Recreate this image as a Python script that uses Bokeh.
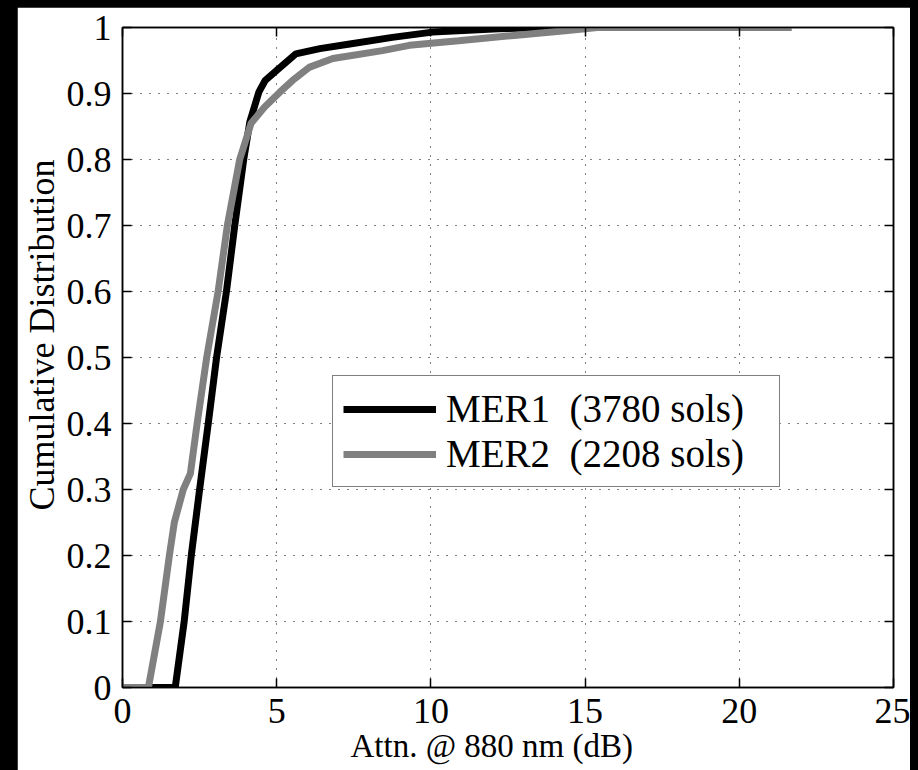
from bokeh.plotting import figure
from bokeh.models import (Range1d, FixedTicker, LinearAxis, Legend, LegendItem, Title)
from bokeh.embed import file_html
from bokeh.resources import INLINE

# ---------------- data ----------------
MER1_X = [0, 1.71, 2.0, 2.23, 2.5, 2.78, 3.05, 3.37, 3.64, 3.93, 4.13, 4.42, 4.63,
          5.0, 5.62, 6.4, 7.37, 8.75, 10.05, 12.2, 13.6, 21.6]
MER1_Y = [0, 0, 0.1, 0.2, 0.3, 0.4, 0.5, 0.6, 0.7, 0.8, 0.857, 0.902, 0.920,
          0.935, 0.960, 0.968, 0.975, 0.985, 0.993, 0.998, 1.0, 1.0]

MER2_X = [0, 0.84, 1.23, 1.52, 1.68, 1.97, 2.2, 2.42, 2.73, 3.1, 3.4, 3.8, 4.17,
          4.6, 5.1, 5.52, 6.07, 6.82, 8.43, 9.3, 10.9, 12.7, 14.35, 15.4, 21.7]
MER2_Y = [0, 0, 0.1, 0.2, 0.25, 0.3, 0.324, 0.4, 0.5, 0.6, 0.7, 0.8, 0.855,
          0.879, 0.902, 0.920, 0.940, 0.953, 0.965, 0.973, 0.980, 0.988, 0.995, 1.0, 1.0]

SERIES_LABELS = ["MER1  (3780 sols)", "MER2  (2208 sols)"]
X_TICKS = [0, 5, 10, 15, 20, 25]
X_TICK_LABELS = ["0", "5", "10", "15", "20", "25"]
Y_TICKS = [0, 0.1, 0.2, 0.3, 0.4, 0.5, 0.6, 0.7, 0.8, 0.9, 1]
Y_TICK_LABELS = ["0", "0.1", "0.2", "0.3", "0.4", "0.5", "0.6", "0.7", "0.8", "0.9", "1"]
X_LABEL = "Attn. @ 880 nm (dB)"
Y_LABEL = "Cumulative Distribution"

FONT = "Liberation Serif"
BLACK = "#000000"
GREY = "#808080"

p = figure(width=893, height=763, x_range=Range1d(0, 25), y_range=Range1d(0, 1),
           output_backend="svg", toolbar_location=None, title=None,
           min_border_left=102, min_border_right=17, min_border_top=20,
           min_border_bottom=83)
p.margin = (7, 0, 0, 17)
p.background_fill_color = "white"
p.border_fill_color = "white"
p.outline_line_color = BLACK
p.outline_line_width = 1.5

def style_axis(ax, ticks, labels, show_labels=True):
    ax.ticker = FixedTicker(ticks=ticks)
    ax.major_label_overrides = dict(zip(ticks, labels))
    ax.axis_line_color = BLACK
    ax.axis_line_width = 1.5
    ax.major_tick_line_color = BLACK
    ax.major_tick_line_width = 1.5
    ax.major_tick_in = 9
    ax.major_tick_out = 0
    ax.minor_tick_line_color = None
    if show_labels:
        ax.major_label_text_font = FONT
        ax.major_label_text_font_size = "36px"
        ax.major_label_text_color = BLACK
        ax.major_label_standoff = 11
    else:
        ax.major_label_text_color = None
        ax.major_label_text_font_size = "1px"
        ax.major_label_standoff = 0

style_axis(p.xaxis[0], X_TICKS, X_TICK_LABELS)
style_axis(p.yaxis[0], Y_TICKS, Y_TICK_LABELS)

top_ax = LinearAxis()
style_axis(top_ax, X_TICKS, X_TICK_LABELS, show_labels=False)
p.add_layout(top_ax, "above")
right_ax = LinearAxis()
style_axis(right_ax, Y_TICKS, Y_TICK_LABELS, show_labels=False)
p.add_layout(right_ax, "right")

for g, ticks in ((p.xgrid[0], X_TICKS), (p.ygrid[0], Y_TICKS)):
    g.ticker = FixedTicker(ticks=ticks)
    g.grid_line_color = BLACK
    g.grid_line_width = 1
    g.grid_line_dash = "1 8"

r1 = p.line(MER1_X, MER1_Y, line_color=BLACK, line_width=7)
r2 = p.line(MER2_X, MER2_Y, line_color=GREY, line_width=7)

xt = Title(text=X_LABEL, align="left", offset=228, text_font=FONT,
           text_font_size="33px", text_font_style="normal", text_color=BLACK, standoff=0)
p.add_layout(xt, "below")
yt = Title(text=Y_LABEL, align="left", offset=177, text_font=FONT,
           text_font_size="36px", text_font_style="normal", text_color=BLACK, standoff=4)
p.add_layout(yt, "left")

legend = Legend(items=[LegendItem(label=SERIES_LABELS[0], renderers=[r1]),
                       LegendItem(label=SERIES_LABELS[1], renderers=[r2])],
                location=(210, 200), label_text_font=FONT, label_text_font_size="39px",
                label_text_color=BLACK, glyph_width=93, glyph_height=20,
                label_standoff=10, label_width=323, padding=10, spacing=0, margin=0,
                border_line_color=BLACK, border_line_width=1.5,
                background_fill_color="white", background_fill_alpha=1)
p.add_layout(legend)

html = file_html(p, INLINE, title="Cumulative Distribution")
css = "<style>html, body { background-color: #000000 !important; }</style>\n</head>"
html = html.replace("</head>", css, 1)
open("out.html", "w").write(html)
